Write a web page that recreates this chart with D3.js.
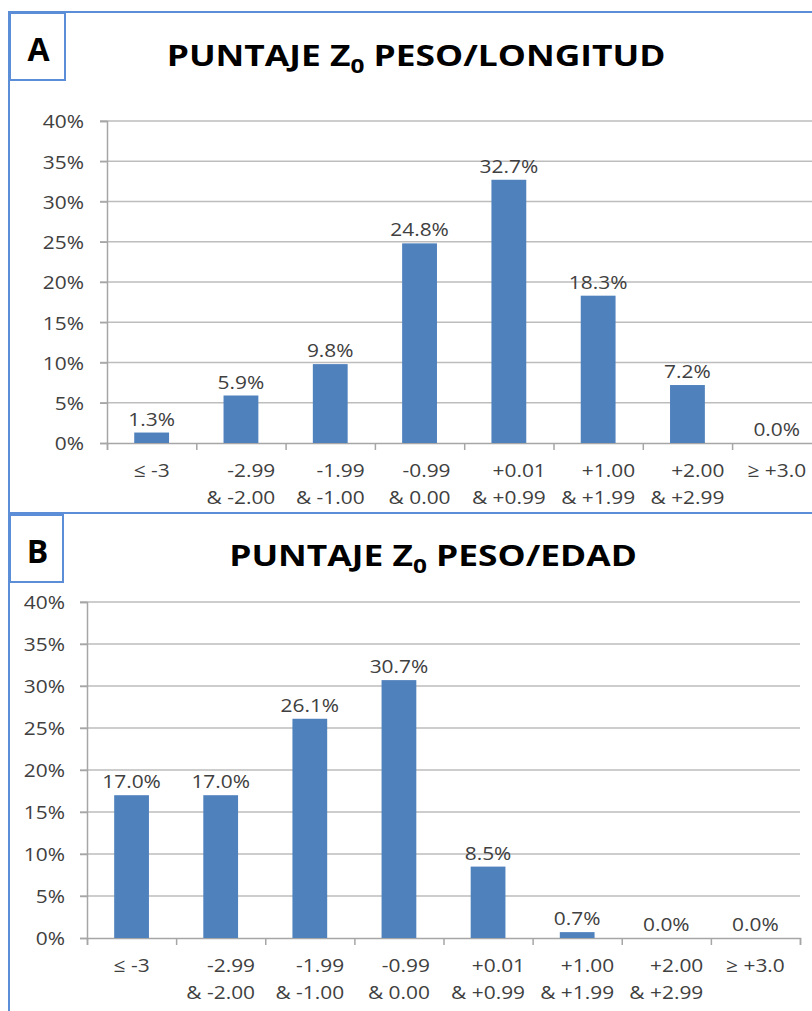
<!DOCTYPE html>
<html><head><meta charset="utf-8">
<script src="https://cdn.jsdelivr.net/npm/d3@7"></script>
<style>
html,body{margin:0;padding:0;background:#fff;}
svg{display:block;}
text{font-family:"Open Sans",sans-serif;}
</style></head>
<body>
<svg id="chart" width="812" height="1011"></svg>
<script>
// ---- data ----
const categories = [
  ["≤ -3"],
  ["-2.99", "& -2.00"],
  ["-1.99", "& -1.00"],
  ["-0.99", "& 0.00"],
  ["+0.01", "& +0.99"],
  ["+1.00", "& +1.99"],
  ["+2.00", "& +2.99"],
  ["≥ +3.0"]
];
const valuesA = [1.3, 5.9, 9.8, 24.8, 32.7, 18.3, 7.2, 0.0];
const valuesB = [17.0, 17.0, 26.1, 30.7, 8.5, 0.7, 0.0, 0.0];
const yTicks = [0, 5, 10, 15, 20, 25, 30, 35, 40];
const titleA = "PESO/LONGITUD";
const titleB = "PESO/EDAD";

const svg = d3.select("#chart");
const frame = "#5B8ED6";
const barColor = "#4F81BD";
const textColor = "#404040";
const FS = 19;      // small text font size
const SX = 1.1;     // horizontal stretch of small text

function addText(parent, x, y, str, anchor, size, sx){
  return parent.append("text")
    .attr("transform", `translate(${x},${y}) scale(${sx},1)`)
    .attr("text-anchor", anchor).attr("font-size", size).attr("fill", textColor)
    .text(str);
}

// frames
svg.append("line").attr("x1",9).attr("x2",812).attr("y1",12).attr("y2",12).attr("stroke",frame).attr("stroke-width",2);
svg.append("line").attr("x1",9).attr("x2",9).attr("y1",11).attr("y2",1011).attr("stroke",frame).attr("stroke-width",2);
svg.append("line").attr("x1",9).attr("x2",812).attr("y1",513).attr("y2",513).attr("stroke",frame).attr("stroke-width",2);

function letterBox(letter, x, y, w, h){
  svg.append("rect").attr("x",x).attr("y",y).attr("width",w).attr("height",h)
    .attr("fill","#fff").attr("stroke",frame).attr("stroke-width",2);
  svg.append("text").attr("x",x+w/2+1).attr("y",y+h/2+14).attr("text-anchor","middle")
    .attr("font-size",32).attr("font-weight",700).attr("fill","#000").text(letter);
}
letterBox("A", 10, 13, 55, 67);
letterBox("B", 10, 515, 53, 67);

function title(cx, baseline, rest){
  const t = svg.append("text")
    .attr("transform", `translate(${cx},${baseline}) scale(1.22,1)`)
    .attr("text-anchor","middle")
    .attr("font-size",29).attr("font-weight",700).attr("fill","#000");
  t.append("tspan").text("PUNTAJE Z");
  t.append("tspan").attr("font-size",20).attr("dy",7).text("0");
  t.append("tspan").attr("dy",-7).text(" " + rest);
}
title(416, 66, titleA);
title(433, 566, titleB);

function panel(cfg){
  const g = svg.append("g");
  const x = d3.scaleBand().domain(d3.range(categories.length)).range([cfg.x0, cfg.x1])
    .paddingInner(0.61).paddingOuter(0.305);
  const y = d3.scaleLinear().domain([0, 40]).range([cfg.yb, cfg.yt]);

  // gridlines
  g.selectAll(".grid").data(yTicks.filter(d => d > 0)).join("line")
    .attr("x1", cfg.x0 - 7).attr("x2", cfg.x1).attr("y1", d => y(d)).attr("y2", d => y(d))
    .attr("stroke","#BDBDBD").attr("stroke-width",1.5);

  // y axis
  const yAxis = d3.axisLeft(y).tickValues(yTicks).tickSize(7).tickFormat(d => d + "%");
  const ya = g.append("g").attr("transform",`translate(${cfg.x0},0)`).call(yAxis);
  ya.select(".domain").attr("stroke","#A6A6A6").attr("stroke-width",1.5);
  ya.selectAll(".tick line").attr("stroke","#A6A6A6").attr("stroke-width",1.5);
  ya.selectAll(".tick text").attr("x",0).attr("dy","0.36em")
    .attr("transform", `translate(${-cfg.labelGap},0) scale(${SX},1)`)
    .attr("font-size",FS).attr("fill",textColor)
    .attr("font-family","'Open Sans',sans-serif");

  // x axis boundary ticks
  const xb = d3.scaleLinear().domain([0, categories.length]).range([cfg.x0, cfg.x1]);
  const xAxis = d3.axisBottom(xb).tickValues(d3.range(categories.length + 1))
    .tickSize(7).tickFormat("");
  const xa = g.append("g").attr("transform",`translate(0,${cfg.yb})`).call(xAxis);
  xa.select(".domain").attr("stroke","#A6A6A6").attr("stroke-width",1.5);
  xa.selectAll(".tick line").attr("stroke","#A6A6A6").attr("stroke-width",1.5);

  // bars
  g.selectAll(".bar").data(cfg.values).join("rect")
    .attr("x", (d,i) => x(i)).attr("width", x.bandwidth())
    .attr("y", d => y(d)).attr("height", d => y(0) - y(d))
    .attr("fill", barColor);

  // data labels
  cfg.values.forEach((v, i) => {
    addText(g, x(i) + x.bandwidth()/2, y(v) - 7, v.toFixed(1) + "%", "middle", FS, SX);
  });

  // category labels
  categories.forEach((lines, i) => {
    const cx = x(i) + x.bandwidth()/2;
    if (lines.length === 1) {
      addText(g, cx, cfg.yb + 34, lines[0], "middle", FS, SX);
    } else {
      const t2 = addText(g, cx, cfg.yb + 61, lines[1], "middle", FS, SX);
      const w = t2.node().getComputedTextLength() * SX;
      addText(g, cx + w/2, cfg.yb + 34, lines[0], "end", FS, SX);
    }
  });
}

panel({x0:107, x1:821.4, yt:121, yb:443, values:valuesA, labelGap:23});
panel({x0:87, x1:800, yt:602, yb:938, values:valuesB, labelGap:22});
</script>
</body></html>
